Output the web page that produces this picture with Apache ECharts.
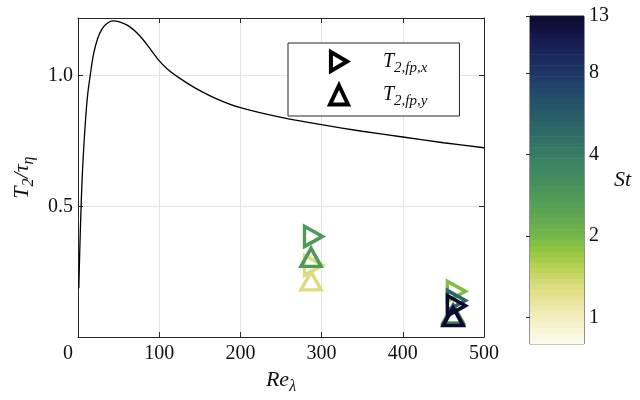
<!DOCTYPE html>
<html>
<head>
<meta charset="utf-8">
<script src="https://cdn.jsdelivr.net/npm/echarts@6/dist/echarts.min.js"></script>
<style>html,body{margin:0;padding:0;background:#fff}#c{width:640px;height:400px}</style>
</head>
<body>
<div id="c"></div>
<script>
// ---- data ----
const curveRe  = [1, 2, 3.5, 5, 7, 9.5, 12, 15, 19, 24, 30, 36, 43, 52, 64, 76, 88, 98.5, 110, 125, 144, 170, 200, 250, 300, 350, 400, 450, 500];
const curveVal = [0.187, 0.31, 0.47, 0.60, 0.72, 0.84, 0.93, 1.0, 1.08, 1.14, 1.18, 1.2, 1.209, 1.204, 1.186, 1.152, 1.106, 1.062, 1.025, 0.99, 0.953, 0.912, 0.877, 0.84, 0.812, 0.787, 0.765, 0.743, 0.724];

const xRe  = [290, 290, 466, 466, 466];
const xSt  = [1.3, 2.8, 1.9, 5, 13];
const xVal = [0.275, 0.385, 0.175, 0.14, 0.12];

const yRe  = [287, 287, 462, 462, 462];
const ySt  = [1.3, 2.8, 1.9, 5, 13];
const yVal = [0.215, 0.305, 0.09, 0.085, 0.078];

const xTicks = [0, 100, 200, 300, 400, 500];
const yTicks = [0.5, 1.0];
const cbTicks = [1, 2, 4, 8, 13];
const stMin = 0.8, stMax = 13;

// colormap stops (fraction along colorbar, colour)
const cmapPos = [0, 0.08, 0.165, 0.24, 0.29, 0.33, 0.44, 0.58, 0.68, 0.78, 0.82, 0.92, 1.0];
const cmapCol = ['#fdfbf0', '#f3eec0', '#e2df85', '#b5d052', '#8fc640', '#74b648', '#519c58', '#377c66', '#2a6269', '#22476d', '#1f3868', '#171c54', '#0c0a2e'];

// ---- helpers ----
const lmin = Math.log10(stMin), lmax = Math.log10(stMax);
function hex2rgb(h){return [parseInt(h.substr(1,2),16),parseInt(h.substr(3,2),16),parseInt(h.substr(5,2),16)];}
function cmap(t){
  t = Math.max(0, Math.min(1, t));
  for (let i = 0; i < cmapPos.length - 1; i++) {
    if (t <= cmapPos[i+1]) {
      const f = (t - cmapPos[i]) / (cmapPos[i+1] - cmapPos[i]);
      const a = hex2rgb(cmapCol[i]), b = hex2rgb(cmapCol[i+1]);
      return 'rgb(' + a.map((v,k)=>Math.round(v + (b[k]-v)*f)).join(',') + ')';
    }
  }
  return cmapCol[cmapCol.length-1];
}
function stColor(st){ return cmap((Math.log10(st) - lmin) / (lmax - lmin)); }

const N = 60;
const cbSegs = [];
for (let i = 0; i < N; i++) cbSegs.push([0.5, lmin + (lmax-lmin)*i/N, lmin + (lmax-lmin)*(i+1)/N]);

const FONT = 'Liberation Serif';
const AX = '#262626';
const rightTri = 'path://M0,0L17,10L0,20Z';

// scatter series, one per point, ordered by St so darker ones are on top
const pts = [];
xRe.forEach((r,i)=>pts.push({name:'x', re:r, v:xVal[i], st:xSt[i], k:0}));
yRe.forEach((r,i)=>pts.push({name:'y', re:r, v:yVal[i], st:ySt[i], k:1}));
pts.sort((a,b)=> a.st - b.st || a.k - b.k);
const scatterSeries = pts.map(p => ({
  type: 'scatter', name: p.name, xAxisIndex: 0, yAxisIndex: 0,
  symbol: p.name === 'x' ? rightTri : 'triangle',
  symbolSize: p.name === 'x' ? [18, 20] : [20, 18],
  data: [[p.re, p.v]],
  itemStyle: {color: 'rgba(0,0,0,0)', borderColor: stColor(p.st), borderWidth: 3.5, borderJoin: 'miter', borderMiterLimit: 10, opacity: 1},
  emphasis: {disabled: true}, z: 3
}));

const chart = echarts.init(document.getElementById('c'), null, {renderer: 'canvas'});
const option = {
  animation: false,
  backgroundColor: '#fff',
  textStyle: {fontFamily: FONT},
  grid: [
    {left: 78, right: 156, top: 18, bottom: 55, show: false},
    {left: 530, width: 54, top: 16, bottom: 56, show: true, borderColor: AX, borderWidth: 1, backgroundColor: 'transparent'}
  ],
  xAxis: [
    {type: 'value', gridIndex: 0, min: 0, max: 500, interval: 100,
     name: '{i|Re}{s|λ}', nameLocation: 'middle', nameGap: 24,
     nameTextStyle: {rich: {i: {fontFamily: FONT, fontStyle: 'italic', fontSize: 22, lineHeight: 28, verticalAlign: 'middle', color: '#111'},
                            s: {fontFamily: FONT, fontStyle: 'italic', fontSize: 16, lineHeight: 30, verticalAlign: 'bottom', color: '#111'}}},
     axisLine: {onZero: false, lineStyle: {color: AX, width: 1}},
     axisTick: {inside: true, length: 5, lineStyle: {color: AX}},
     axisLabel: {color: '#111', fontFamily: FONT, fontSize: 20, margin: 7,
       formatter: v => v === 0 ? '{z|0}' : String(v),
       rich: {z: {fontFamily: FONT, fontSize: 20, color: '#111', padding: [0, 20, 0, 0]}}},
     splitLine: {show: true, lineStyle: {color: '#e3e3e3', width: 1}}},
    {type: 'value', gridIndex: 0, position: 'top', min: 0, max: 500, interval: 100,
     axisLine: {onZero: false, lineStyle: {color: AX, width: 1}},
     axisTick: {inside: true, length: 5, lineStyle: {color: AX}},
     axisLabel: {show: false}, splitLine: {show: false}},
    {type: 'value', gridIndex: 1, min: 0, max: 1, show: false}
  ],
  yAxis: [
    {type: 'value', gridIndex: 0, min: 0, max: 1.22, interval: 0.5,
     name: '{i|T}{s|2}{i|/τ}{s|η}', nameLocation: 'middle', nameGap: 37, nameRotate: 90,
     nameTextStyle: {rich: {i: {fontFamily: FONT, fontStyle: 'italic', fontSize: 22, lineHeight: 28, verticalAlign: 'middle', color: '#111'},
                            s: {fontFamily: FONT, fontStyle: 'italic', fontSize: 16, lineHeight: 30, verticalAlign: 'bottom', color: '#111'}}},
     axisLine: {onZero: false, lineStyle: {color: AX, width: 1}},
     axisTick: {inside: true, length: 5, lineStyle: {color: AX}},
     axisLabel: {color: '#111', fontFamily: FONT, fontSize: 20, margin: 5, showMaxLabel: false,
       formatter: v => v === 0 ? '' : v.toFixed(1)},
     splitLine: {show: true, lineStyle: {color: '#e3e3e3', width: 1}}},
    {type: 'value', gridIndex: 0, position: 'right', min: 0, max: 1.22, interval: 0.5,
     axisLine: {onZero: false, lineStyle: {color: AX, width: 1}},
     axisTick: {inside: true, length: 5, lineStyle: {color: AX}},
     axisLabel: {show: false}, splitLine: {show: false}},
    {type: 'value', gridIndex: 1, position: 'right', min: lmin, max: lmax,
     name: 'St', nameLocation: 'middle', nameGap: 30, nameRotate: 0,
     nameTextStyle: {fontFamily: FONT, fontStyle: 'italic', fontSize: 22, color: '#111'},
     axisLine: {show: true, lineStyle: {color: AX, width: 1}},
     axisTick: {show: true, inside: true, length: 4, lineStyle: {color: AX}, customValues: cbTicks.map(v => Math.log10(v))},
     axisLabel: {show: true, color: '#111', fontFamily: FONT, fontSize: 20, margin: 5,
       customValues: cbTicks.map(v => Math.log10(v)),
       formatter: v => String(Math.round(Math.pow(10, v)))},
     splitLine: {show: false}}
  ],
  legend: {
    left: 288, top: 43, orient: 'vertical',
    borderColor: AX, borderWidth: 1, backgroundColor: '#fff',
    padding: [7, 32, 7, 40], itemGap: 8, itemWidth: 18, itemHeight: 19,
    selectedMode: false,
    data: [
      {name: 'x', icon: rightTri, itemStyle: {color: 'rgba(0,0,0,0)', borderColor: '#000', borderWidth: 4, borderJoin: 'miter'}},
      {name: 'y', icon: 'triangle', itemStyle: {color: 'rgba(0,0,0,0)', borderColor: '#000', borderWidth: 4, borderJoin: 'miter'}}
    ],
    formatter: n => '{i|T}{s|2,fp,' + n + '}',
    textStyle: {rich: {
      i: {fontFamily: FONT, fontStyle: 'italic', fontSize: 20, lineHeight: 26, verticalAlign: 'middle', padding: [0, 0, 0, 30], color: '#111'},
      s: {fontFamily: FONT, fontStyle: 'italic', fontSize: 15, lineHeight: 28, verticalAlign: 'bottom', color: '#111'}
    }}
  },
  series: [
    {type: 'line', name: 'curve', xAxisIndex: 0, yAxisIndex: 0, showSymbol: false, smooth: 0.3,
     data: curveRe.map((r,i)=>[r, curveVal[i]]),
     lineStyle: {color: '#000', width: 1.3}, emphasis: {disabled: true}, z: 2},
    ...scatterSeries,
    {type: 'custom', name: 'colorbar', xAxisIndex: 2, yAxisIndex: 2, data: cbSegs,
     encode: {x: 0, y: [1, 2]}, silent: true,
     renderItem: (params, api) => {
       const lo = api.value(1), hi = api.value(2);
       const p0 = api.coord([0, lo]), p1 = api.coord([1, hi]);
       const t = ((lo + hi) / 2 - lmin) / (lmax - lmin);
       return {type: 'rect', shape: {x: p0[0], y: p1[1], width: p1[0] - p0[0], height: p0[1] - p1[1] + 0.6},
               style: {fill: cmap(t)}};
     }}
  ]
};
chart.setOption(option);
</script>
</body>
</html>
